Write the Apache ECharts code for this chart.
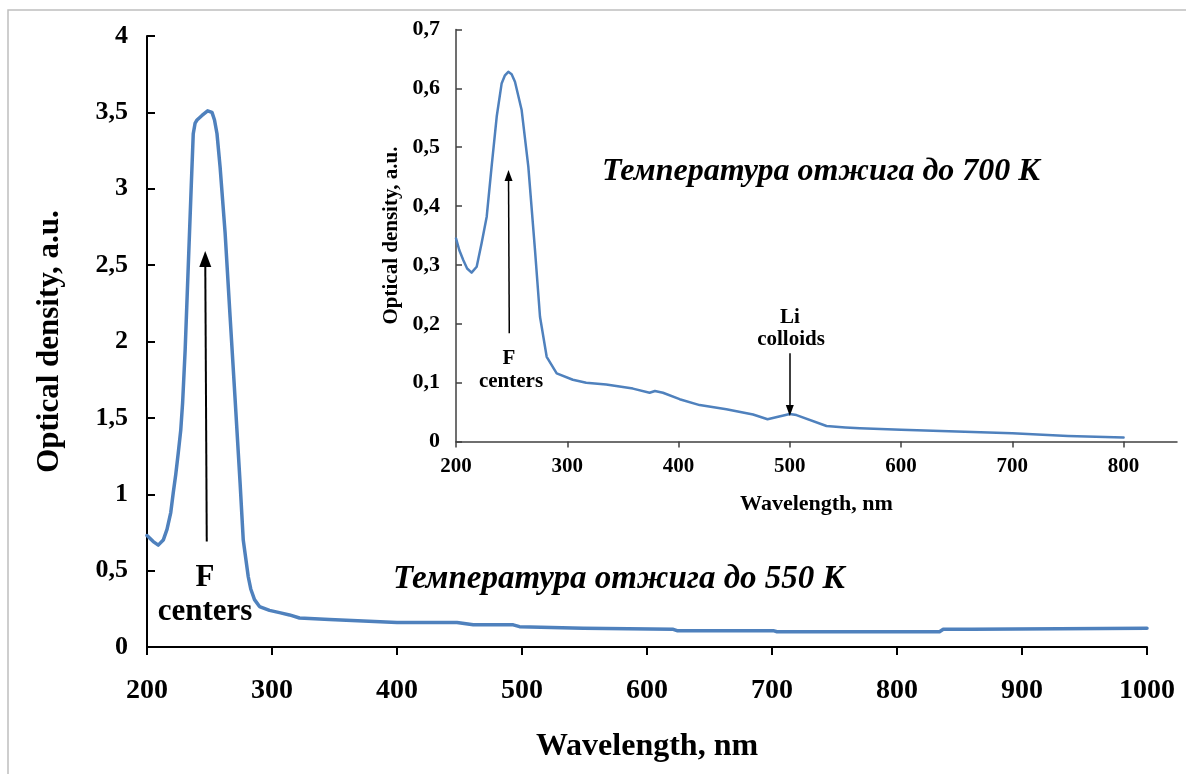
<!DOCTYPE html>
<html>
<head>
<meta charset="utf-8">
<script src="https://cdn.jsdelivr.net/npm/echarts@6/dist/echarts.min.js"></script>
<style>
  html, body { margin: 0; padding: 0; background: #ffffff; }
  #chart { width: 1186px; height: 774px; }
</style>
</head>
<body>
<div id="chart"></div>
<script>
// Absorption spectrum after annealing up to 550 K (main plot)
const mainWavelength = [200, 205, 209, 213, 216, 219, 221, 223, 225, 227, 228.5, 230.5, 233, 235.5, 237, 238.5, 240, 244, 248.5, 252, 254, 256, 258.5, 262.5, 266.5, 270.5, 274.5, 277, 281, 283, 286, 290, 298, 306, 314, 322, 346, 373, 400, 448, 461, 493, 498, 549, 621, 624, 701, 704, 834, 837, 860, 861, 1000];
const mainDensity = [0.73, 0.69, 0.667, 0.70, 0.77, 0.88, 1.01, 1.13, 1.27, 1.42, 1.60, 1.94, 2.49, 3.04, 3.36, 3.43, 3.45, 3.48, 3.51, 3.50, 3.45, 3.36, 3.14, 2.71, 2.16, 1.62, 1.07, 0.70, 0.46, 0.38, 0.31, 0.265, 0.24, 0.225, 0.21, 0.19, 0.18, 0.17, 0.16, 0.16, 0.145, 0.145, 0.133, 0.122, 0.116, 0.107, 0.107, 0.10, 0.10, 0.116, 0.116, 0.122, 0.122];

// Absorption spectrum after annealing up to 700 K (inset)
const insetWavelength = [200, 203, 206.6, 210, 214, 218.6, 223, 227.6, 232, 236.6, 241, 244, 247, 250, 253, 259, 265, 271, 275.5, 281.5, 290.5, 305, 317, 335, 359, 374, 378.8, 386, 401, 419, 443, 467, 480, 500, 506, 533, 550, 563, 600, 650, 700, 750, 800];
const insetDensity = [0.345, 0.325, 0.308, 0.294, 0.287, 0.297, 0.337, 0.382, 0.467, 0.552, 0.608, 0.622, 0.628, 0.624, 0.611, 0.563, 0.467, 0.325, 0.212, 0.144, 0.116, 0.105, 0.10, 0.097, 0.09, 0.083, 0.086, 0.083, 0.072, 0.062, 0.055, 0.046, 0.038, 0.047, 0.045, 0.0265, 0.024, 0.0226, 0.02, 0.017, 0.014, 0.0095, 0.007];

// Tick labels
const mainXTicks = [200, 300, 400, 500, 600, 700, 800, 900, 1000];
const mainYTicks = [0, 0.5, 1, 1.5, 2, 2.5, 3, 3.5, 4];
const insetXTicks = [200, 300, 400, 500, 600, 700, 800];
const insetYTicks = [0, 0.1, 0.2, 0.3, 0.4, 0.5, 0.6, 0.7];

// Arrow annotations: [wavelength, density] start -> end
const mainFArrow = [[247.8, 0.69], [246.6, 2.54]];
const insetFArrow = [[247.9, 0.184], [247.2, 0.452]];
const insetLiArrow = [[500, 0.15], [500, 0.053]];

const SERIF = "'Liberation Serif', 'Times New Roman', serif";
const LINE = '#4f81bd';
const comma = v => String(+v.toFixed(2)).replace('.', ',');
const plain = v => String(v);

const pairs = (xs, ys) => xs.map((x, i) => [x, ys[i]]);

function arrowLine(seg, width, size) {
  return {
    silent: true,
    symbol: ['none', 'triangle'],
    symbolSize: size,
    label: { show: false },
    lineStyle: { color: '#000', width: width, type: 'solid' },
    emphasis: { disabled: true },
    data: [[{ coord: seg[0] }, { coord: seg[1] }]]
  };
}

function label(x, y, text, size, italic) {
  return {
    type: 'text', silent: true,
    style: {
      x: x, y: y, text: text, fontFamily: SERIF, fontWeight: 'bold',
      fontStyle: italic ? 'italic' : 'normal', fontSize: size, fill: '#000',
      align: 'center', verticalAlign: 'middle'
    }
  };
}

const chart = echarts.init(document.getElementById('chart'), null, { renderer: 'canvas' });

chart.setOption({
  animation: false,
  backgroundColor: '#ffffff',
  grid: [
    { left: 147, right: 39, top: 36, bottom: 127, containLabel: false },
    { left: 456, right: 9, top: 29.4, bottom: 332.4, containLabel: false }
  ],
  xAxis: [
    {
      gridIndex: 0, type: 'value', min: 200, max: 1000, interval: 100,
      name: 'Wavelength, nm', nameLocation: 'middle', nameGap: 84,
      nameTextStyle: { fontFamily: SERIF, fontWeight: 'bold', fontSize: 32, color: '#000' },
      axisLine: { onZero: false, lineStyle: { color: '#000', width: 2 } },
      axisTick: { inside: false, length: 8, lineStyle: { color: '#000', width: 2 } },
      axisLabel: { margin: 30, fontFamily: SERIF, fontWeight: 'bold', fontSize: 28, color: '#000',
                   customValues: mainXTicks, formatter: plain },
      splitLine: { show: false }
    },
    {
      gridIndex: 1, type: 'value', min: 200, max: 848,
      name: 'Wavelength, nm', nameLocation: 'middle', nameGap: 52,
      nameTextStyle: { fontFamily: SERIF, fontWeight: 'bold', fontSize: 22, color: '#000' },
      axisLine: { onZero: false, lineStyle: { color: '#404040', width: 1.5 } },
      axisTick: { inside: false, length: 6, customValues: insetXTicks, lineStyle: { color: '#404040', width: 1.5 } },
      axisLabel: { margin: 14, fontFamily: SERIF, fontWeight: 'bold', fontSize: 21, color: '#000',
                   customValues: insetXTicks, formatter: plain },
      splitLine: { show: false }
    }
  ],
  yAxis: [
    {
      gridIndex: 0, type: 'value', min: 0, max: 4, interval: 0.5,
      name: 'Optical density, a.u.', nameLocation: 'middle', nameGap: 82, nameRotate: 90,
      nameTextStyle: { fontFamily: SERIF, fontWeight: 'bold', fontSize: 31, color: '#000' },
      axisLine: { onZero: false, lineStyle: { color: '#000', width: 2 } },
      axisTick: { inside: true, length: 8, lineStyle: { color: '#000', width: 2 } },
      axisLabel: { margin: 19, fontFamily: SERIF, fontWeight: 'bold', fontSize: 26, color: '#000',
                   customValues: mainYTicks, formatter: comma },
      splitLine: { show: false }
    },
    {
      gridIndex: 1, type: 'value', min: 0, max: 0.7, interval: 0.1,
      name: 'Optical density, a.u.', nameLocation: 'middle', nameGap: 52, nameRotate: 90,
      nameTextStyle: { fontFamily: SERIF, fontWeight: 'bold', fontSize: 21, color: '#000' },
      axisLine: { onZero: false, lineStyle: { color: '#404040', width: 1.5 } },
      axisTick: { inside: true, length: 6, lineStyle: { color: '#404040', width: 1.5 } },
      axisLabel: { margin: 16, fontFamily: SERIF, fontWeight: 'bold', fontSize: 22, color: '#000',
                   customValues: insetYTicks, formatter: comma },
      splitLine: { show: false }
    }
  ],
  series: [
    {
      name: '550 K', type: 'line', xAxisIndex: 0, yAxisIndex: 0,
      data: pairs(mainWavelength, mainDensity),
      showSymbol: false, smooth: false,
      lineStyle: { color: LINE, width: 3.5, join: 'round', cap: 'round' },
      markLine: arrowLine(mainFArrow, 2, [12, 16])
    },
    {
      name: '700 K', type: 'line', xAxisIndex: 1, yAxisIndex: 1,
      data: pairs(insetWavelength, insetDensity),
      showSymbol: false, smooth: false,
      lineStyle: { color: LINE, width: 2.5, join: 'round', cap: 'round' },
      markLine: arrowLine(insetFArrow, 1.5, [8, 11])
    },
    {
      name: 'Li', type: 'line', xAxisIndex: 1, yAxisIndex: 1,
      data: [], showSymbol: false,
      markLine: arrowLine(insetLiArrow, 1.5, [8, 11])
    }
  ],
  graphic: [
    { type: 'rect', silent: true, z: -1, shape: { x: 8, y: 10, width: 1200, height: 800 },
      style: { fill: 'none', stroke: '#bfbfbf', lineWidth: 1.5 } },
    label(205, 578, 'F', 31),
    label(205, 612, 'centers', 31),
    label(619, 579, 'Температура отжига до 550 К', 33, true),
    label(821, 172, 'Температура отжига до 700 К', 32, true),
    label(509, 359, 'F', 21),
    label(511, 382, 'centers', 21),
    label(790, 318, 'Li', 21),
    label(791, 340, 'colloids', 21)
  ]
});
</script>
</body>
</html>
